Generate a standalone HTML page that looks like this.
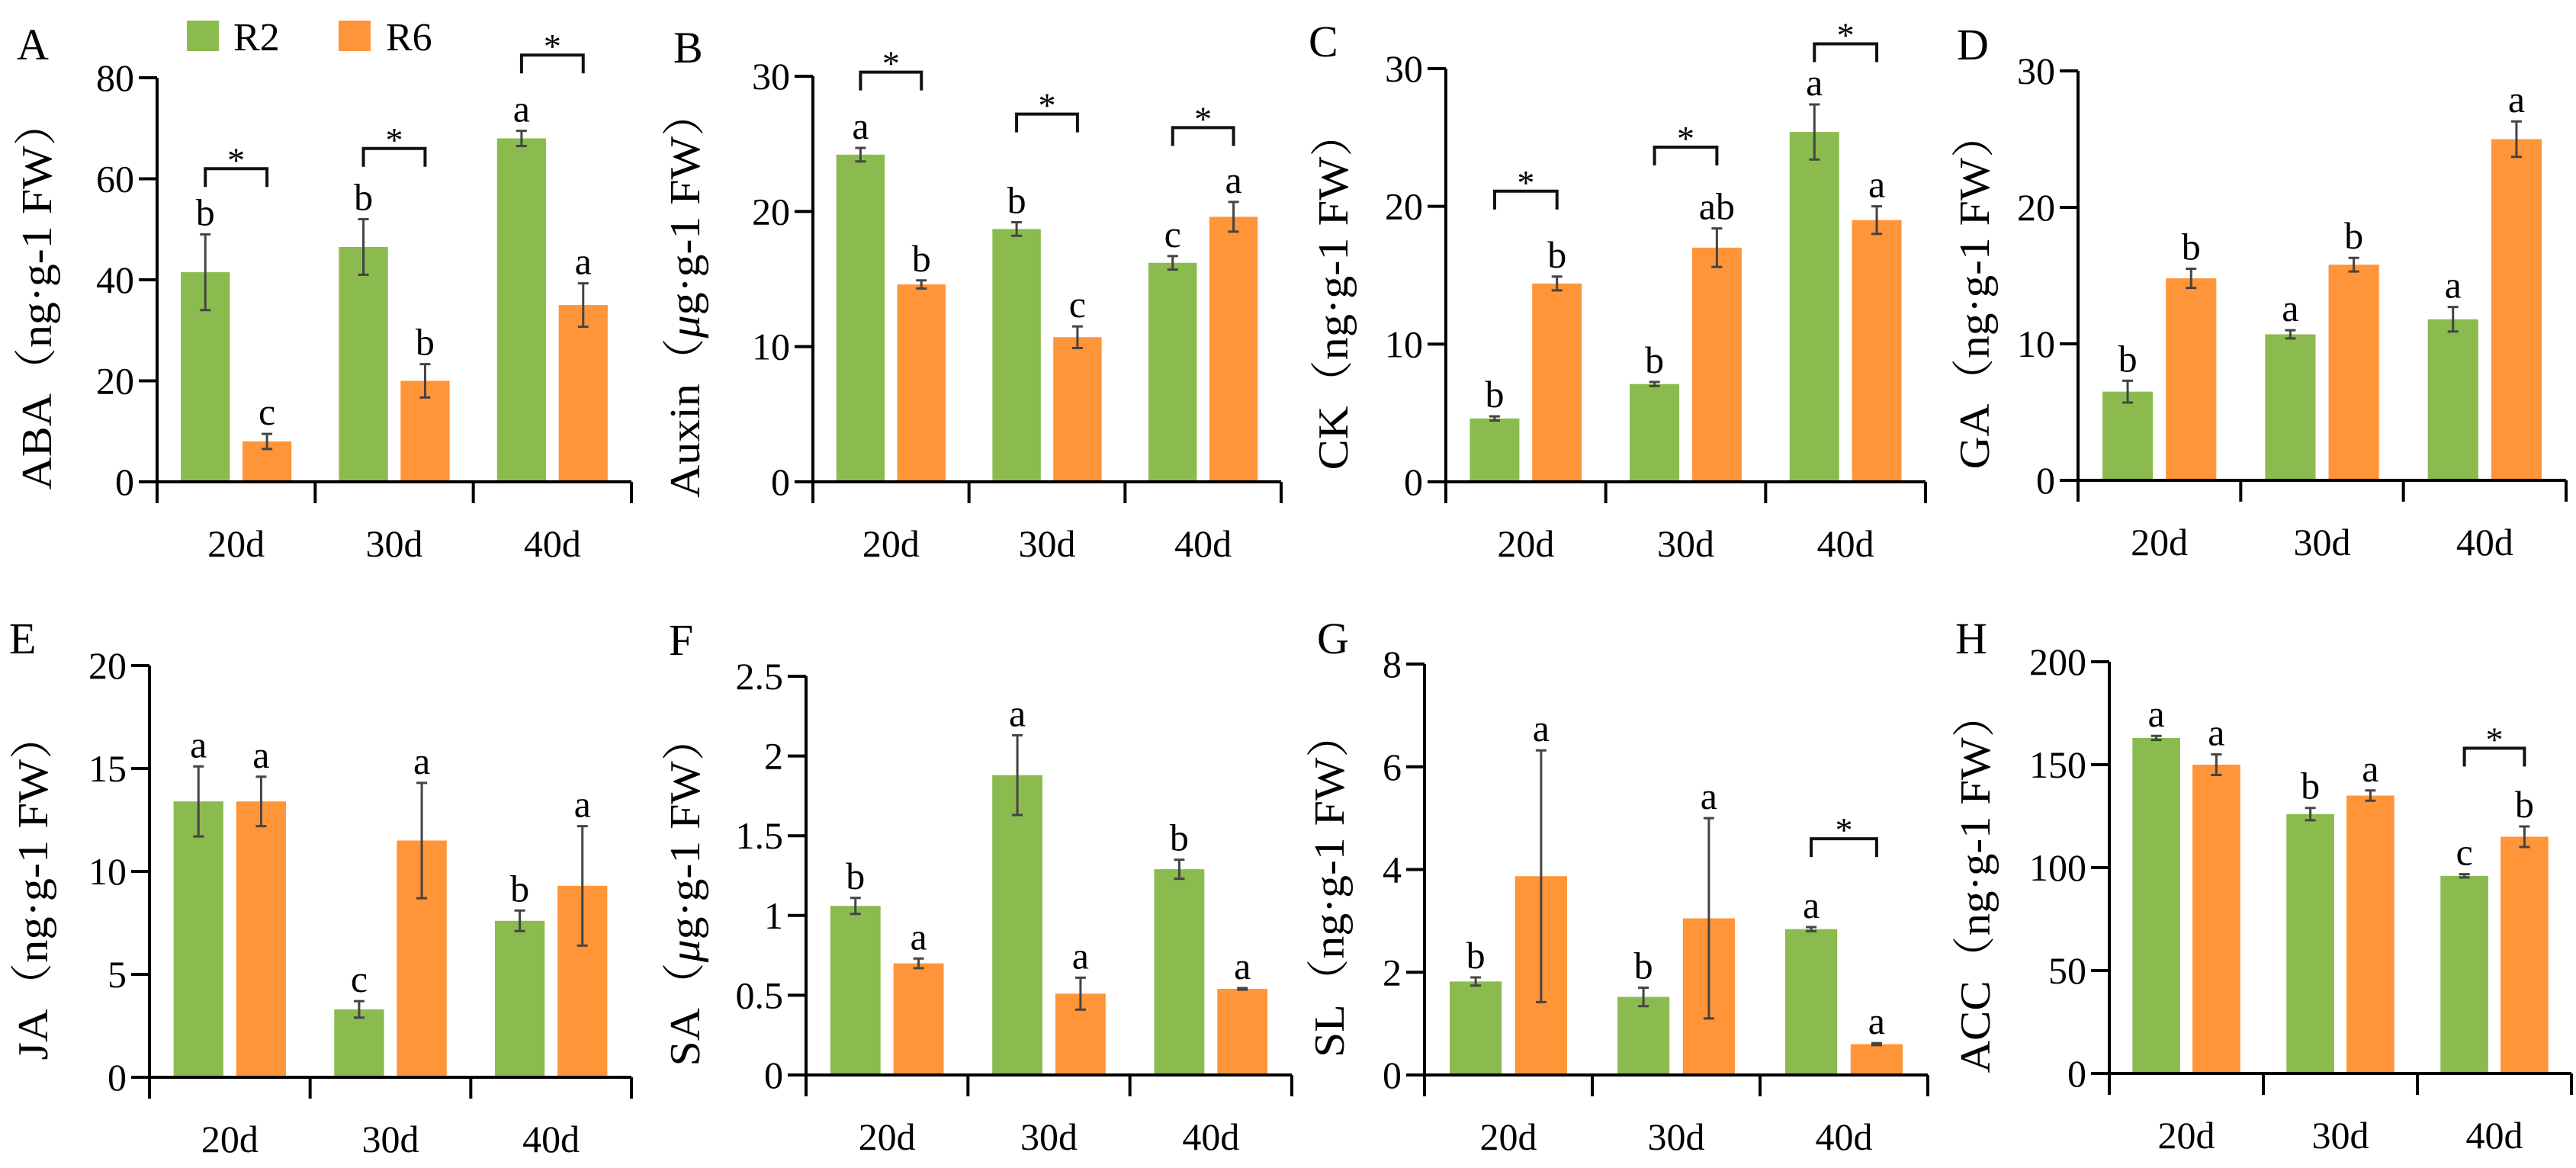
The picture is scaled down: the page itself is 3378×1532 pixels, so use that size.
<!DOCTYPE html>
<html><head><meta charset="utf-8"><style>
html,body{margin:0;padding:0;background:#fff}
svg{display:block}
text{font-family:"Liberation Serif","Noto Serif CJK SC",serif;fill:#000}
</style></head><body>
<svg id="fig" width="3378" height="1532" viewBox="0 0 3378 1532" xmlns="http://www.w3.org/2000/svg">
<g>
<rect x="245" y="27" width="42" height="40" fill="#8BBB4F"/>
<text x="306" y="66" font-size="52">R2</text>
<rect x="444" y="27" width="42" height="40" fill="#FF9538"/>
<text x="506" y="66" font-size="52">R6</text>
</g>
</svg>
<script>
const categories = ["20d","30d","40d"];
// Panel A ABA
const abaR2 = [41.5, 46.5, 68];   const abaR2Err = [7.5, 5.5, 1.5];
const abaR6 = [8, 20, 35];        const abaR6Err = [1.5, 3.3, 4.3];
const abaR2Let = ["b","b","a"];   const abaR6Let = ["c","b","a"];
const abaSig = [62, 66, 84.5];
const abaTicks = [0,20,40,60,80];
// Panel B Auxin
const auxR2 = [24.2, 18.7, 16.2]; const auxR2Err = [0.5, 0.5, 0.5];
const auxR6 = [14.6, 10.7, 19.6]; const auxR6Err = [0.3, 0.8, 1.1];
const auxR2Let = ["a","b","c"];   const auxR6Let = ["b","c","a"];
const auxSig = [30.3, 27.2, 26.2];
const auxTicks = [0,10,20,30];
// Panel C CK
const ckR2 = [4.6, 7.1, 25.4];    const ckR2Err = [0.15, 0.15, 2];
const ckR6 = [14.4, 17, 19];      const ckR6Err = [0.5, 1.4, 1];
const ckR2Let = ["b","b","a"];    const ckR6Let = ["b","ab","a"];
const ckSig = [21.1, 24.3, 31.8];
const ckTicks = [0,10,20,30];
// Panel D GA
const gaR2 = [6.5, 10.7, 11.8];   const gaR2Err = [0.8, 0.3, 0.9];
const gaR6 = [14.8, 15.8, 25];    const gaR6Err = [0.7, 0.5, 1.3];
const gaR2Let = ["b","a","a"];    const gaR6Let = ["b","b","a"];
const gaSig = [null, null, null];
const gaTicks = [0,10,20,30];
// Panel E JA
const jaR2 = [13.4, 3.3, 7.6];    const jaR2Err = [1.7, 0.4, 0.5];
const jaR6 = [13.4, 11.5, 9.3];   const jaR6Err = [1.2, 2.8, 2.9];
const jaR2Let = ["a","c","b"];    const jaR6Let = ["a","a","a"];
const jaSig = [null, null, null];
const jaTicks = [0,5,10,15,20];
// Panel F SA
const saR2 = [1.06, 1.88, 1.29];  const saR2Err = [0.05, 0.25, 0.06];
const saR6 = [0.7, 0.51, 0.54];   const saR6Err = [0.03, 0.1, 0.005];
const saR2Let = ["b","a","b"];    const saR6Let = ["a","a","a"];
const saSig = [null, null, null];
const saTicks = [0,0.5,1,1.5,2,2.5];
const saTickLabels = ["0","0.5","1","1.5","2","2.5"];
// Panel G SL
const slR2 = [1.82, 1.52, 2.84];  const slR2Err = [0.08, 0.18, 0.04];
const slR6 = [3.87, 3.05, 0.6];   const slR6Err = [2.45, 1.95, 0.02];
const slR2Let = ["b","b","a"];    const slR6Let = ["a","a","a"];
const slSig = [null, null, 4.6];
const slTicks = [0,2,4,6,8];
// Panel H ACC
const accR2 = [163, 126, 96];     const accR2Err = [1, 3, 0.8];
const accR6 = [150, 135, 115];    const accR6Err = [5, 2.5, 5];
const accR2Let = ["a","b","c"];   const accR6Let = ["a","a","b"];
const accSig = [null, null, 158];
const accTicks = [0,50,100,150,200];

const NS = "http://www.w3.org/2000/svg";
const svg = document.getElementById("fig");
function mk(tag, attrs, parent){
  const e = document.createElementNS(NS, tag);
  for (const k in attrs) e.setAttribute(k, attrs[k]);
  (parent||svg).appendChild(e);
  return e;
}
const panels = [
 {id:"a",letter:"A",lx:22,ly:78,x0:206,x1:828,yT:102,yZ:632,max:80,ticks:abaTicks,r2:abaR2,r2e:abaR2Err,r6:abaR6,r6e:abaR6Err,l2:abaR2Let,l6:abaR6Let,sig:abaSig,tx:49,tl:511,t1:"ABA",unit:"ng"},
 {id:"b",letter:"B",lx:883,ly:82,x0:1066,x1:1680,yT:100,yZ:632,max:30,ticks:auxTicks,r2:auxR2,r2e:auxR2Err,r6:auxR6,r6e:auxR6Err,l2:auxR2Let,l6:auxR6Let,sig:auxSig,tx:899,tl:534,t1:"Auxin",unit:"ug"},
 {id:"c",letter:"C",lx:1716,ly:74,x0:1896,x1:2525,yT:90,yZ:632,max:30,ticks:ckTicks,r2:ckR2,r2e:ckR2Err,r6:ckR6,r6e:ckR6Err,l2:ckR2Let,l6:ckR6Let,sig:ckSig,tx:1749,tl:471,t1:"CK",unit:"ng"},
 {id:"d",letter:"D",lx:2566,ly:78,x0:2725,x1:3365,yT:93,yZ:630,max:30,ticks:gaTicks,r2:gaR2,r2e:gaR2Err,r6:gaR6,r6e:gaR6Err,l2:gaR2Let,l6:gaR6Let,sig:gaSig,tx:2590,tl:468,t1:"GA",unit:"ng"},
 {id:"e",letter:"E",lx:12,ly:857,x0:196,x1:828,yT:873,yZ:1413,max:20,ticks:jaTicks,r2:jaR2,r2e:jaR2Err,r6:jaR6,r6e:jaR6Err,l2:jaR2Let,l6:jaR6Let,sig:jaSig,tx:44,tl:455,t1:"JA",unit:"ng"},
 {id:"f",letter:"F",lx:877,ly:859,x0:1057,x1:1694,yT:887,yZ:1410,max:2.5,ticks:saTicks,tlab:saTickLabels,r2:saR2,r2e:saR2Err,r6:saR6,r6e:saR6Err,l2:saR2Let,l6:saR6Let,sig:saSig,tx:899,tl:460,t1:"SA",unit:"ug"},
 {id:"g",letter:"G",lx:1727,ly:857,x0:1868,x1:2528,yT:871,yZ:1410,max:8,ticks:slTicks,r2:slR2,r2e:slR2Err,r6:slR6,r6e:slR6Err,l2:slR2Let,l6:slR6Let,sig:slSig,tx:1744,tl:453,t1:"SL",unit:"ng"},
 {id:"h",letter:"H",lx:2564,ly:857,x0:2766,x1:3372,yT:868,yZ:1408,max:200,ticks:accTicks,r2:accR2,r2e:accR2Err,r6:accR6,r6e:accR6Err,l2:accR2Let,l6:accR6Let,sig:accSig,tx:2591,tl:499,t1:"ACC",unit:"ng"}
];
panels.forEach(p=>{
  const g = mk("g",{});
  
  
  const y = v => p.yZ - (v/p.max)*(p.yZ-p.yT);
  const gw = (p.x1-p.x0)/categories.length;
  const gx = i => p.x0 + i*gw;
  const bw = gw*0.31;
  // panel letter
  const lt = mk("text",{x:p.lx,y:p.ly,"font-size":58},g); lt.textContent=p.letter;
  
  
  // y title
  const cy = (p.yT+p.yZ)/2 + 20;
  const tt = mk("text",{x:p.tx,y:cy,"font-size":56,"text-anchor":"middle","dominant-baseline":"central",transform:`rotate(-90 ${p.tx} ${cy})`,textLength:p.tl,lengthAdjust:"spacingAndGlyphs"},g);
  
  
  const mu = p.unit==="ug" ? '<tspan font-style="italic">μ</tspan>g' : 'ng';
  tt.innerHTML = p.t1 + '（' + mu + '·g-1 FW）';
  // bars
  categories.forEach((c,i)=>{
    [[p.r2,p.r2e,p.l2,0.15,"#8BBB4F","r2"],[p.r6,p.r6e,p.l6,0.54,"#FF9538","r6"]].forEach(s=>{
      const v=s[0][i], e=s[1][i];
      const bx = gx(i)+gw*s[3];
      const r = mk("rect",{x:bx,y:y(v),width:bw,height:p.yZ-y(v),fill:s[4]},g);
      
      
      const cx = bx+bw/2;
      const eb = mk("path",{d:`M${cx} ${y(v+e)}V${y(v-e)}M${cx-7} ${y(v+e)}H${cx+7}M${cx-7} ${y(v-e)}H${cx+7}`,stroke:"#444",
        "stroke-width":3,fill:"none"},g);
      
      
      const lb = mk("text",{x:cx,y:y(v+e)-12,"font-size":50,"text-anchor":"middle"},g);
      lb.textContent = s[2][i];
      
      
    });
    if (p.sig[i]!=null){
      const c1 = gx(i)+gw*0.15+bw/2, c2 = gx(i)+gw*0.54+bw/2, ty=y(p.sig[i]);
      const br = mk("path",{d:`M${c1} ${ty+24}V${ty}H${c2}V${ty+24}`,stroke:"#111","stroke-width":4,fill:"none"},g);
      
      
      const st = mk("text",{x:(c1+c2)/2,y:ty+4,"font-size":46,"text-anchor":"middle"},g);
      st.textContent="*";
      
      
    }
    const xl = mk("text",{x:gx(i)+gw/2,y:p.yZ+98,"font-size":50,"text-anchor":"middle"},g);
    xl.textContent=c;
    
    
  });
  // axes
  const ax = mk("path",{d:`M${p.x0} ${p.yT}V${p.yZ+28}M${p.x0-24} ${p.yZ}H${p.x1}`,stroke:"#000","stroke-width":4,fill:"none"},g);
  
  
  for (let i=1;i<=categories.length;i++){
    const tk = mk("line",{x1:gx(i),x2:gx(i),y1:p.yZ,y2:p.yZ+28,stroke:"#000","stroke-width":4},g);
    
    
  }
  p.ticks.forEach((t,k)=>{
    const tk = mk("line",{x1:p.x0-24,x2:p.x0,y1:y(t),y2:y(t),stroke:"#000","stroke-width":4},g);
    
    
    const tl = mk("text",{x:p.x0-30,y:y(t)+17,"font-size":50,"text-anchor":"end"},g);
    tl.textContent = p.tlab ? p.tlab[k] : String(t);
    
    
  });
});
</script>
</body></html>
